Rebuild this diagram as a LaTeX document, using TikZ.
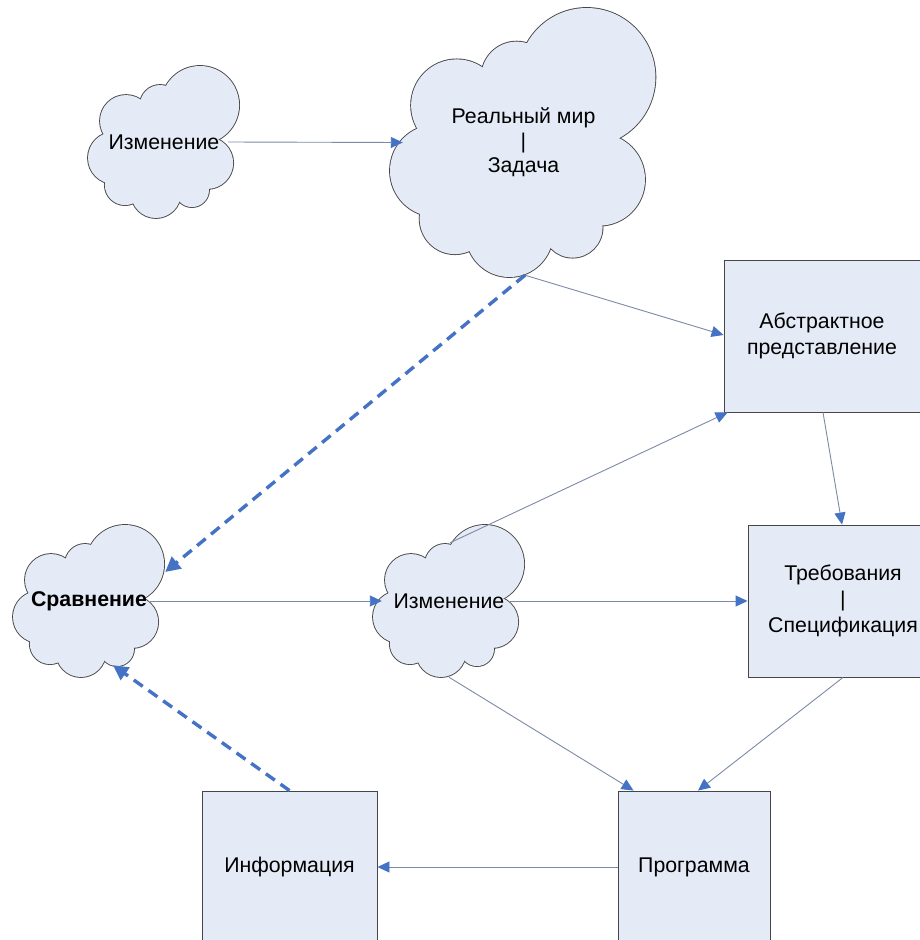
\documentclass[tikz,border=0pt]{standalone}
\usepackage{fontspec}
\setmainfont{Liberation Sans}
\usetikzlibrary{arrows.meta,calc}
\definecolor{shapefill}{RGB}{229,235,246}
\definecolor{shapeline}{RGB}{70,70,70}
\definecolor{connline}{RGB}{125,137,168}
\definecolor{arrblue}{RGB}{68,114,196}

\tikzset{
  cloudnode/.style={rectangle, draw=none, inner sep=0pt, align=center,
    font=\fontsize{21.3pt}{24.5pt}\selectfont},
  boxnode/.style={rectangle, fill=shapefill, draw=shapeline, line width=0.9pt,
    inner sep=0pt, align=center, font=\fontsize{21.3pt}{26pt}\selectfont},
  conn/.style={draw=connline, line width=0.9pt,
    -{Triangle[length=12pt,width=11pt,color=arrblue,fill=arrblue]}},
  dashconn/.style={draw=arrblue, line width=3.4pt, dash pattern=on 11pt off 7pt,
    -{Triangle[length=15pt,width=15pt,color=arrblue,fill=arrblue]}}
}

% cloud = union of puffs, in a unit frame (y down); outline first, fill on top
\newcommand\cloudpuffs{0.25/0.362/0.171, 0.474/0.257/0.132, 0.737/0.257/0.257,
  0.784/0.638/0.171, 0.684/0.816/0.112, 0.447/0.836/0.164,
  0.243/0.783/0.132, 0.171/0.605/0.171}
\newcommand\drawcloud[4]{% center x, center y, width, height
  \begin{scope}[shift={(#1-#3/2,#2-#4/2)}, x=#3pt, y=-#4pt]
    \foreach \u/\v/\r in \cloudpuffs
      \draw[shapeline, line width=1.8pt] (\u,\v) circle[radius=\r];
    \foreach \u/\v/\r in \cloudpuffs
      \fill[shapefill] (\u,\v) circle[radius=\r];
    \fill[shapefill] (0.5,0.52) ellipse[x radius=0.33, y radius=0.27];
  \end{scope}%
}

\begin{document}
\begin{tikzpicture}[x=1pt,y=-1pt]
\useasboundingbox (0,0) rectangle (920,940);
\fill[white] (0,0) rectangle (920,940);
\clip (0,0) rectangle (920,940);

% clouds
\drawcloud{164}{142}{152}{152}
\node[cloudnode, minimum width=152pt, minimum height=152pt] (c1) at (164,142) {Изменение};
\drawcloud{523.5}{142.5}{267}{269}
\node[cloudnode, minimum width=267pt, minimum height=269pt] (c2) at (523.5,142.5) {Реальный мир\\|\\Задача};
\drawcloud{89}{601}{152}{152}
\node[cloudnode, minimum width=152pt, minimum height=152pt] (cmp) at (89,601) {\bfseries Сравнение};
\drawcloud{449}{601}{152}{152}
\node[cloudnode, minimum width=152pt, minimum height=152pt] (c3) at (449,601) {Изменение};

% boxes
\node[boxnode, minimum width=196pt, minimum height=152pt] (abs) at (822,336) {Абстрактное\\представление};
\node[boxnode, minimum width=190pt, minimum height=152pt] (req) at (843,601) {Требования\\|\\Спецификация};
\node[boxnode, minimum width=152pt, minimum height=152pt] (prog) at (694,867) {Программа};
\node[boxnode, minimum width=175pt, minimum height=152pt] (info) at (289.5,867) {Информация};

% connectors
\draw[conn] ([xshift=-12pt]c1.east) -- ([xshift=13pt]c2.west);
\draw[conn] ([xshift=1.5pt,yshift=2pt]c2.south) -- ([yshift=1pt]abs.west);
\draw[conn] ([xshift=1pt]abs.south) -- ([xshift=-1pt]req.north);
\draw[conn] ([xshift=1pt,yshift=-18pt]c3.north) -- ([xshift=4pt]abs.south west);
\draw[conn] ([xshift=-15pt]cmp.east) -- ([xshift=9pt]c3.west);
\draw[conn] ([xshift=-15pt]c3.east) -- (req.west);
\draw[conn] (c3.south) -- ([xshift=16pt]prog.north west);
\draw[conn] (req.south) -- ([xshift=4pt]prog.north);
\draw[conn] (prog.west) -- (info.east);
\draw[dashconn] ([xshift=1.5pt,yshift=2pt]c2.south) -- ([yshift=29pt]cmp.east);
\draw[dashconn] (info.north) -- ([xshift=24pt,yshift=12pt]cmp.south);
\end{tikzpicture}
\end{document}
